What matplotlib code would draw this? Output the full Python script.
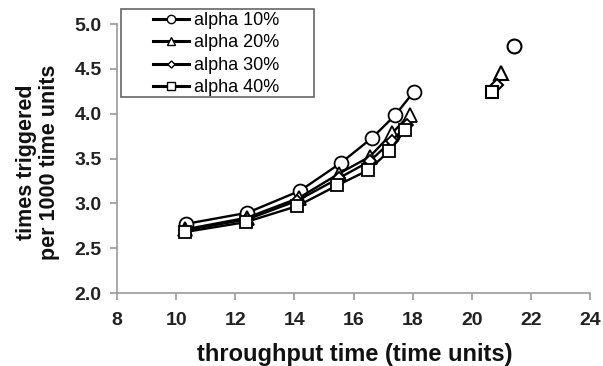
import matplotlib
matplotlib.use("Agg")
import matplotlib.pyplot as plt
from matplotlib.patches import Rectangle

plt.rcParams['font.family'] = ['Liberation Sans', 'DejaVu Sans']

labels = ["alpha 10%", "alpha 20%", "alpha 30%", "alpha 40%"]
markers = ["o", "^", "D", "s"]
msizes = [10, 10, 6, 9]

x10 = [10.32, 12.41, 14.19, 15.57, 16.63, 17.40, 18.03]
y10 = [2.77, 2.895, 3.14, 3.45, 3.73, 3.98, 4.24]
x20 = [10.30, 12.40, 14.15, 15.50, 16.55, 17.30, 17.90]
y20 = [2.71, 2.84, 3.06, 3.33, 3.52, 3.78, 3.99]
x30 = [10.30, 12.40, 14.10, 15.50, 16.55, 17.30, 17.80]
y30 = [2.70, 2.82, 3.03, 3.28, 3.47, 3.70, 3.87]
x40 = [10.30, 12.35, 14.10, 15.45, 16.50, 17.20, 17.75]
y40 = [2.68, 2.79, 2.97, 3.20, 3.37, 3.58, 3.82]

# isolated points (no line)
iso_x = [21.42, 21.00, 20.85, 20.68]
iso_y = [4.76, 4.45, 4.32, 4.24]

xs = [x10, x20, x30, x40]
ys = [y10, y20, y30, y40]

W, H = 603, 366
fig = plt.figure(figsize=(W / 100, H / 100), dpi=100)
ax = fig.add_axes([117 / W, 1 - 293 / H, (590 - 117) / W, (293 - 24) / H])

handles = []
for i in range(4):
    h, = ax.plot(xs[i], ys[i], color='black', lw=1.7, marker=markers[i],
                 ms=msizes[i], mfc='white', mec='black', mew=1.3, label=labels[i])
    handles.append(h)
    ax.plot([iso_x[i]], [iso_y[i]], ls='none', marker=markers[i], ms=msizes[i],
            mfc='white', mec='black', mew=1.5)

ax.set_xlim(8, 24)
ax.set_ylim(2.0, 5.0)
ax.set_xticks([8, 10, 12, 14, 16, 18, 20, 22, 24])
ax.set_yticks([2.0, 2.5, 3.0, 3.5, 4.0, 4.5, 5.0])
ax.set_yticklabels(["2.0", "2.5", "3.0", "3.5", "4.0", "4.5", "5.0"])
for s in ['top', 'right']:
    ax.spines[s].set_visible(False)
for s in ['left', 'bottom']:
    ax.spines[s].set_color('#999999')
    ax.spines[s].set_linewidth(1.2)
ax.tick_params(axis='both', direction='out', color='#999999', length=5, width=1.2,
               labelsize=14, labelcolor='#222222')
ax.tick_params(axis='x', pad=9)
ax.tick_params(axis='y', pad=6)
for t in ax.get_xticklabels() + ax.get_yticklabels():
    t.set_fontweight('bold')

fig.text(355 / W, 1 - 354 / H, "throughput time (time units)", fontsize=17,
         fontweight='bold', ha='center', va='center', color='#111111')
fig.text(38 / W, 1 - 162 / H, "times triggered\nper 1000 time units", fontsize=15.5,
         fontweight='bold', ha='center', va='center', rotation=90,
         linespacing=1.1, color='#111111')

leg = fig.legend(handles=handles, loc='upper left',
                 bbox_to_anchor=(153 / W, 1 - 12 / H), fontsize=13,
                 frameon=False, handlelength=2.0, handletextpad=0.25,
                 borderpad=0.0, labelspacing=0.3, borderaxespad=0,
                 markerscale=0.6)
for lh in leg.legend_handles:
    lh.set_linewidth(2.2)
    lh.set_markeredgewidth(1.0)

fig.add_artist(Rectangle((121 / W, 1 - 97 / H), (314 - 121) / W, (97 - 9) / H,
                         transform=fig.transFigure, fill=True, facecolor='white',
                         edgecolor='#666666', lw=1.2, zorder=2))
leg.set_zorder(3)

fig.savefig("out.png", dpi=100)
